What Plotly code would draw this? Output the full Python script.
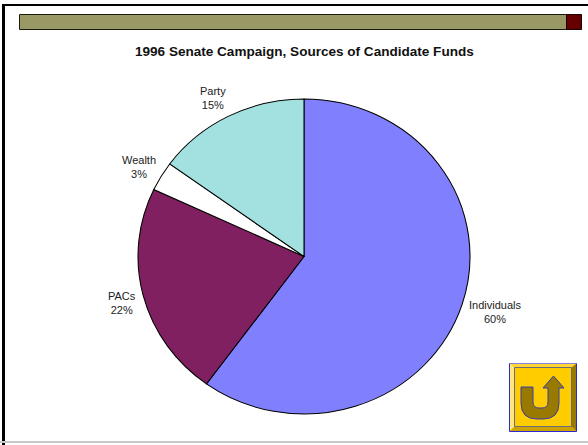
import plotly.graph_objects as go

W, H = 588, 445

# Funding sources, percent of candidate funds
sources = ["Individuals", "PACs", "Wealth", "Party"]
shares = [60, 22, 3, 15]
slice_colors = ["#8080FF", "#802060", "#FFFFFF", "#A3E0E0"]
label_centres = [(495, 312), (122, 303), (138.5, 166.5), (213, 98)]

title_text = "1996 Senate Campaign, Sources of Candidate Funds"

# Pie geometry: drawn as a circle, then widened horizontally in the page
cx, cy, ry, rx = 304, 256.5, 157.5, 166

fig = go.Figure()
fig.add_trace(go.Pie(
    labels=sources,
    values=shares,
    sort=False,
    direction="clockwise",
    rotation=0,
    textinfo="none",
    hoverinfo="label+percent",
    showlegend=False,
    marker=dict(colors=slice_colors, line=dict(color="#000000", width=1)),
    domain=dict(x=[(cx - ry) / W, (cx + ry) / W],
                y=[1 - (cy + ry) / H, 1 - (cy - ry) / H]),
))


def rect(x0, y0, x1, y1, fill, line=None, width=0):
    return dict(type="rect", xref="x", yref="y", x0=x0, y0=y0, x1=x1, y1=y1,
                fillcolor=fill, line=dict(color=line or fill, width=width),
                layer="below")


def poly(points, fill, line=None, width=0):
    path = "M" + " L".join(f"{x},{y}" for x, y in points) + " Z"
    return dict(type="path", xref="x", yref="y", path=path, fillcolor=fill,
                line=dict(color=line or fill, width=width), layer="below")


def segment(x0, y0, x1, y1, color):
    return dict(type="line", xref="x", yref="y", x0=x0, y0=y0, x1=x1, y1=y1,
                line=dict(color=color, width=1), layer="below")


shapes = [
    # Slide frame
    rect(2, 4, 5, H, "#000000"),
    rect(2, 4, W, 6, "#000000"),
    rect(0, 441, W, 443, "#C8C8C8"),
    # Header bar with its end block
    rect(19.5, 14.5, 566.5, 29.5, "#999966", "#1A1A10", 1),
    rect(566.5, 14.5, 581.5, 29.5, "#660000", "#1A0000", 1),
    # Return button: face and bevels
    rect(509.5, 363.5, 576.5, 431.5, "#FFCC00"),
    poly([(509.5, 363.5), (576.5, 363.5), (571.5, 367.5), (514.5, 367.5)], "#FFD633"),
    poly([(509.5, 363.5), (514.5, 367.5), (514.5, 426.5), (509.5, 431.5)], "#FFE680"),
    poly([(576.5, 363.5), (576.5, 431.5), (571.5, 426.5), (571.5, 367.5)], "#997A00"),
    poly([(509.5, 431.5), (514.5, 426.5), (571.5, 426.5), (576.5, 431.5)], "#CCA300"),
    rect(514.5, 367.5, 571.5, 426.5, "#FFCC00", "#6E6A78", 1),
    segment(509.5, 363.5, 576.5, 363.5, "#8A80E0"),
    segment(509.5, 363.5, 509.5, 431.5, "#2A2AE0"),
    segment(576.5, 363.5, 576.5, 431.5, "#2A2AC0"),
    segment(509.5, 431.5, 576.5, 431.5, "#2A2AD0"),
    # Return button: U-turn arrow
    dict(type="path", xref="x", yref="y", layer="below",
         path=("M521,387 L533,387 L533,402 Q533,408 539,408 L542,408 "
               "Q548,408 548,402 L548,388 L543,388 L553.5,376 L564,388 "
               "L559,388 L559,403 Q559,419 543,419 L537,419 "
               "Q521,419 521,403 Z"),
         fillcolor="#997A00", line=dict(color="#3A3AB0", width=1)),
]

annotations = [
    dict(x=304.5, y=51, text=f"<b>{title_text}</b>", showarrow=False,
         xref="x", yref="y", xanchor="center", yanchor="middle",
         font=dict(family="Liberation Sans", size=13.55, color="#111111")),
]
for name, share, (lx, ly) in zip(sources, shares, label_centres):
    annotations.append(dict(
        x=lx, y=ly, text=f"{name}<br>{share}%", showarrow=False,
        xref="x", yref="y", xanchor="center", yanchor="middle",
        font=dict(family="Liberation Sans", size=11, color="#222222"),
    ))

fig.update_layout(
    width=W, height=H,
    margin=dict(l=0, r=0, t=0, b=0),
    paper_bgcolor="#FFFFFF",
    plot_bgcolor="#FFFFFF",
    xaxis=dict(range=[0, W], visible=False, fixedrange=True),
    yaxis=dict(range=[H, 0], visible=False, fixedrange=True),
    shapes=shapes,
    annotations=annotations,
)

# Widen the pie about its centre so it reads as a slightly flattened disc
stretch = f"""
var layer = document.querySelector('.pielayer');
layer.setAttribute('transform',
  'translate({cx},0) scale({rx / ry},1) translate({-cx},0)');
document.body.style.margin = '0';
"""
fig.write_html("out.html", post_script=stretch,
               config={"displayModeBar": False})
